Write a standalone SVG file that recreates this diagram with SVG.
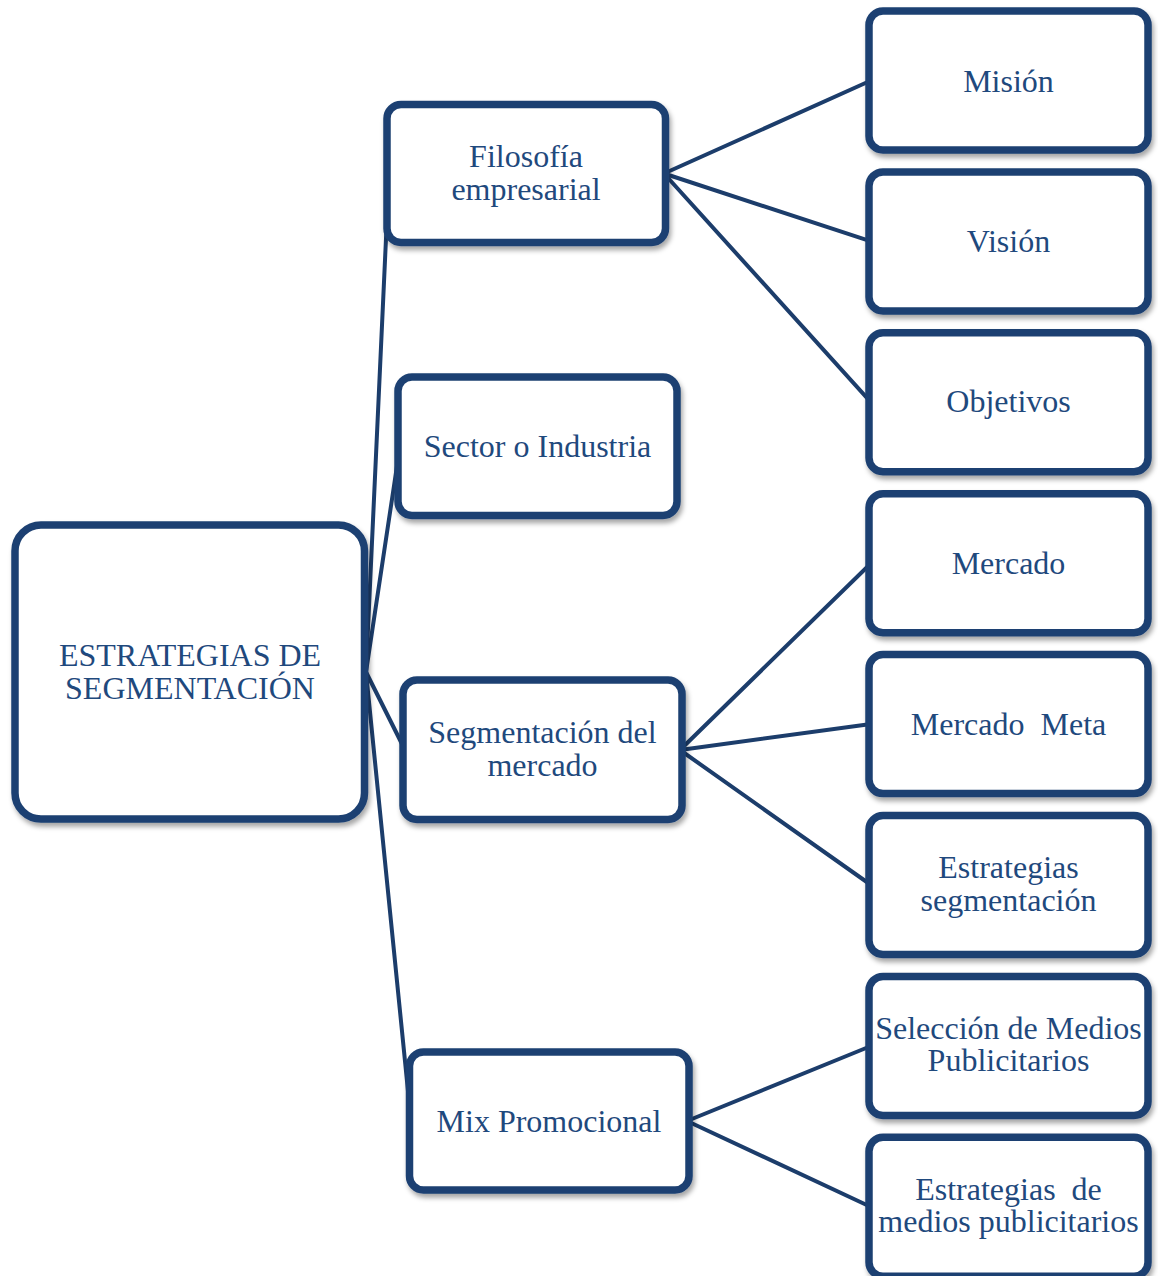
<svg xmlns="http://www.w3.org/2000/svg" width="1158" height="1276" viewBox="0 0 1158 1276">
  <defs>
    <filter id="sh" x="-10%" y="-10%" width="125%" height="130%">
      <feDropShadow dx="2" dy="4" stdDeviation="2.5" flood-color="#000" flood-opacity="0.35"/>
    </filter>
  </defs>
  <style>
    .box { fill: #ffffff; stroke: #1E4172; stroke-width: 7.5; filter: url(#sh); }
    .lbl { font-family: "Liberation Serif", "Times New Roman", serif; font-size: 32px; fill: #1F497D; text-anchor: middle; white-space: pre; }
    .con line { stroke: #1C3D6B; stroke-width: 4; stroke-linecap: round; }
  </style>
  <rect width="1158" height="1276" fill="#ffffff"/>

  <g id="connectors" class="con">
    <line x1="366" y1="672" x2="389" y2="173.5"/>
    <line x1="366" y1="672" x2="400" y2="446"/>
    <line x1="366" y1="672" x2="405" y2="750"/>
    <line x1="366" y1="672" x2="411" y2="1121"/>
    <line x1="664" y1="173.5" x2="871" y2="80.5"/>
    <line x1="664" y1="173.5" x2="871" y2="241.4"/>
    <line x1="664" y1="173.5" x2="871" y2="402.3"/>
    <line x1="680" y1="750" x2="871" y2="563.2"/>
    <line x1="680" y1="750" x2="871" y2="724"/>
    <line x1="680" y1="750" x2="871" y2="885"/>
    <line x1="687" y1="1121" x2="871" y2="1046"/>
    <line x1="687" y1="1121" x2="871" y2="1207"/>
  </g>

  <g id="root">
    <rect class="box" x="15" y="525" width="349.5" height="294" rx="26"/>
    <text class="lbl" x="190" y="666">ESTRATEGIAS DE</text>
    <text class="lbl" x="190" y="699">SEGMENTACIÓN</text>
  </g>

  <g id="filosofia">
    <rect class="box" x="387" y="104.5" width="278.5" height="138" rx="14"/>
    <text class="lbl" x="526" y="167">Filosofía</text>
    <text class="lbl" x="526" y="200">empresarial</text>
  </g>

  <g id="sector">
    <rect class="box" x="398" y="377" width="279" height="138.5" rx="14"/>
    <text class="lbl" x="537.5" y="457">Sector o Industria</text>
  </g>

  <g id="segmentacion">
    <rect class="box" x="403" y="680" width="279" height="139.5" rx="14"/>
    <text class="lbl" x="542.5" y="743">Segmentación del</text>
    <text class="lbl" x="542.5" y="776">mercado</text>
  </g>

  <g id="mix">
    <rect class="box" x="409.5" y="1052" width="279.5" height="138" rx="14"/>
    <text class="lbl" x="549" y="1132">Mix Promocional</text>
  </g>

  <g id="mision">
    <rect class="box" x="869" y="11" width="279" height="139" rx="14"/>
    <text class="lbl" x="1008.5" y="91.5">Misión</text>
  </g>

  <g id="vision">
    <rect class="box" x="869" y="171.9" width="279" height="139" rx="14"/>
    <text class="lbl" x="1008.5" y="252">Visión</text>
  </g>

  <g id="objetivos">
    <rect class="box" x="869" y="332.8" width="279" height="139" rx="14"/>
    <text class="lbl" x="1008.5" y="412">Objetivos</text>
  </g>

  <g id="mercado">
    <rect class="box" x="869" y="493.7" width="279" height="139" rx="14"/>
    <text class="lbl" x="1008.5" y="573.5">Mercado</text>
  </g>

  <g id="mercado-meta">
    <rect class="box" x="869" y="654.6" width="279" height="139" rx="14"/>
    <text class="lbl" x="1008.5" y="734.5">Mercado  Meta</text>
  </g>

  <g id="estrategias-segmentacion">
    <rect class="box" x="869" y="815.5" width="279" height="139" rx="14"/>
    <text class="lbl" x="1008.5" y="878">Estrategias</text>
    <text class="lbl" x="1008.5" y="911">segmentación</text>
  </g>

  <g id="seleccion-medios">
    <rect class="box" x="869" y="976.4" width="279" height="139" rx="14"/>
    <text class="lbl" x="1008.5" y="1038.5">Selección de Medios</text>
    <text class="lbl" x="1008.5" y="1071">Publicitarios</text>
  </g>

  <g id="estrategias-medios">
    <rect class="box" x="869" y="1137.3" width="279" height="139" rx="14"/>
    <text class="lbl" x="1008.5" y="1199.5">Estrategias  de</text>
    <text class="lbl" x="1008.5" y="1232">medios publicitarios</text>
  </g>
</svg>
